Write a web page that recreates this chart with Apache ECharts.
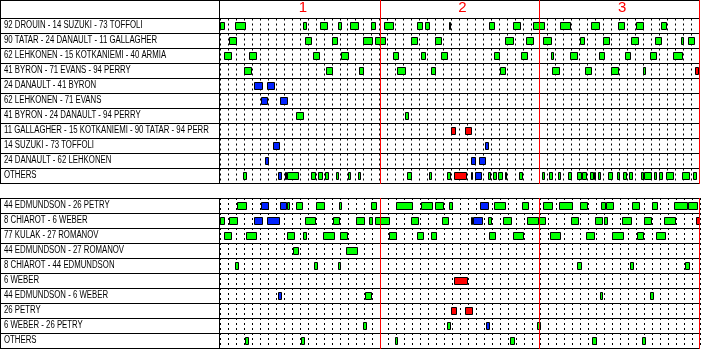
<!DOCTYPE html>
<html><head><meta charset="utf-8">
<script src="https://cdn.jsdelivr.net/npm/echarts@6/dist/echarts.min.js"></script>
<style>html,body{margin:0;padding:0;background:#fff}#c{width:702px;height:349px}</style>
</head><body><div id="c"></div>
<script>
// ---- data (game seconds) ----
const periodLabels = ['1', '2', '3'];
const periodEnds = [1200, 2400, 3600];
const gameLength = 3600;
const tickStep = 60;

const topRows = [
  '92 DROUIN - 14 SUZUKI - 73 TOFFOLI',
  '90 TATAR - 24 DANAULT - 11 GALLAGHER',
  '62 LEHKONEN - 15 KOTKANIEMI - 40 ARMIA',
  '41 BYRON - 71 EVANS - 94 PERRY',
  '24 DANAULT - 41 BYRON',
  '62 LEHKONEN - 71 EVANS',
  '41 BYRON - 24 DANAULT - 94 PERRY',
  '11 GALLAGHER - 15 KOTKANIEMI - 90 TATAR - 94 PERRY',
  '14 SUZUKI - 73 TOFFOLI',
  '24 DANAULT - 62 LEHKONEN',
  'OTHERS'
];
const bottomRows = [
  '44 EDMUNDSON - 26 PETRY',
  '8 CHIAROT - 6 WEBER',
  '77 KULAK - 27 ROMANOV',
  '44 EDMUNDSON - 27 ROMANOV',
  '8 CHIAROT - 44 EDMUNDSON',
  '6 WEBER',
  '44 EDMUNDSON - 6 WEBER',
  '26 PETRY',
  '6 WEBER - 26 PETRY',
  'OTHERS'
];

// [row, start, end, kind]  kind: G = even strength, B = power play, R = short handed
const topShifts = [
  [0,0,40,'G'],[0,115,193,'G'],[0,623,653,'G'],[0,752,808,'G'],[0,887,920,'G'],[0,975,1048,'G'],[0,1133,1175,'G'],[0,1230,1310,'G'],[0,1478,1528,'G'],[0,1538,1580,'G'],[0,1718,1738,'G'],[0,2020,2068,'G'],[0,2200,2263,'G'],[0,2350,2443,'G'],[0,2552,2638,'G'],[0,2790,2855,'G'],[0,2993,3043,'G'],[0,3128,3185,'G'],[0,3315,3360,'G'],
  [1,68,125,'G'],[1,638,695,'G'],[1,840,890,'G'],[1,1073,1148,'G'],[1,1163,1250,'G'],[1,1433,1490,'G'],[1,1613,1670,'G'],[1,2145,2210,'G'],[1,2303,2360,'G'],[1,2430,2495,'G'],[1,2702,2743,'G'],[1,2880,2930,'G'],[1,3090,3148,'G'],[1,3270,3320,'G'],[1,3465,3485,'G'],[1,3518,3570,'G'],
  [2,30,88,'G'],[2,218,275,'G'],[2,698,748,'G'],[2,908,973,'G'],[2,1298,1348,'G'],[2,1508,1550,'G'],[2,1658,1715,'G'],[2,2063,2105,'G'],[2,2265,2315,'G'],[2,2490,2513,'G'],[2,2633,2693,'G'],[2,2850,2893,'G'],[2,3045,3088,'G'],[2,3233,3283,'G'],[2,3405,3478,'G'],
  [3,180,238,'G'],[3,795,853,'G'],[3,1043,1085,'G'],[3,1328,1400,'G'],[3,1583,1625,'G'],[3,2108,2150,'G'],[3,2498,2555,'G'],[3,2745,2795,'G'],[3,2940,3000,'G'],[3,3180,3200,'G'],[3,3570,3600,'R'],
  [4,255,320,'B'],[4,353,410,'B'],
  [5,308,360,'B'],[5,450,510,'B'],
  [6,572,635,'G'],[6,1388,1423,'G'],
  [7,1733,1775,'R'],[7,1838,1895,'R'],
  [8,398,448,'B'],[8,1988,2023,'B'],
  [9,338,365,'B'],[9,1890,1925,'B'],[9,1950,2000,'B'],
  [10,173,200,'G'],[10,435,465,'B'],[10,488,503,'B'],[10,503,590,'G'],[10,683,723,'G'],[10,733,773,'G'],[10,788,818,'G'],[10,870,898,'G'],[10,960,988,'G'],[10,1035,1058,'G'],[10,1403,1445,'G'],[10,1568,1595,'G'],[10,1703,1733,'G'],[10,1757,1855,'R'],[10,1883,1905,'G'],[10,1913,1970,'B'],[10,2013,2040,'G'],[10,2055,2085,'G'],[10,2093,2130,'G'],[10,2140,2158,'G'],[10,2250,2278,'G'],[10,2423,2443,'G'],[10,2475,2505,'G'],[10,2543,2563,'G'],[10,2618,2643,'G'],[10,2680,2720,'G'],[10,2720,2758,'G'],[10,2783,2810,'G'],[10,2810,2825,'G'],[10,2843,2865,'G'],[10,2918,2953,'G'],[10,2985,3005,'G'],[10,3030,3060,'G'],[10,3075,3103,'G'],[10,3165,3190,'G'],[10,3190,3245,'G'],[10,3263,3285,'G'],[10,3300,3328,'G'],[10,3350,3415,'G'],[10,3473,3530,'G'],[10,3555,3583,'G']
];

const bottomShifts = [
  [0,128,200,'G'],[0,308,365,'B'],[0,450,505,'B'],[0,505,525,'G'],[0,572,620,'G'],[0,722,785,'G'],[0,893,913,'G'],[0,1135,1178,'G'],[0,1322,1445,'G'],[0,1510,1595,'G'],[0,1613,1678,'G'],[0,1718,1745,'G'],[0,1952,2015,'B'],[0,2057,2143,'G'],[0,2267,2315,'G'],[0,2423,2495,'G'],[0,2543,2645,'G'],[0,2702,2758,'G'],[0,2860,2893,'G'],[0,2893,2953,'G'],[0,3090,3148,'G'],[0,3242,3283,'G'],[0,3405,3510,'G'],[0,3510,3583,'G'],
  [1,0,40,'G'],[1,70,133,'G'],[1,255,320,'B'],[1,353,448,'B'],[1,640,718,'G'],[1,850,898,'G'],[1,1022,1085,'G'],[1,1118,1145,'G'],[1,1163,1277,'G'],[1,1433,1490,'G'],[1,1665,1715,'G'],[1,1883,1895,'G'],[1,1895,1970,'B'],[1,2010,2038,'G'],[1,2123,2188,'G'],[1,2303,2393,'G'],[1,2393,2443,'G'],[1,2633,2690,'G'],[1,2813,2870,'G'],[1,2880,2908,'G'],[1,3015,3088,'G'],[1,3180,3238,'G'],[1,3330,3418,'G'],[1,3570,3600,'R'],
  [2,30,88,'G'],[2,195,275,'G'],[2,503,560,'G'],[2,623,650,'G'],[2,775,860,'G'],[2,900,958,'G'],[2,1268,1325,'G'],[2,1478,1528,'G'],[2,1583,1625,'G'],[2,2018,2068,'G'],[2,2198,2278,'G'],[2,2475,2555,'G'],[2,2745,2810,'G'],[2,2940,3028,'G'],[2,3128,3178,'G'],[2,3270,3343,'G'],
  [3,548,590,'G'],[3,945,1033,'G'],
  [4,113,140,'G'],[4,705,733,'G'],[4,885,905,'G'],[4,2678,2713,'G'],[4,3075,3103,'G'],[4,3488,3523,'G'],
  [5,1757,1858,'R'],
  [6,435,465,'B'],[6,1088,1140,'G'],[6,2850,2873,'G'],[6,3225,3255,'G'],
  [7,1733,1775,'R'],[7,1838,1895,'R'],
  [8,1073,1103,'G'],[8,1703,1733,'G'],[8,1995,2023,'B'],[8,2378,2405,'G'],
  [9,188,218,'G'],[9,608,638,'G'],[9,1313,1333,'G'],[9,2175,2210,'G'],[9,2790,2825,'G'],[9,3165,3195,'G']
];

const kindColors = { G: '#00ff00', B: '#0022ff', R: '#ff0000' };

// ---- layout ----
const L = 220, W = 480, ROW = 15, TOP1 = 18, TOP2 = 198;

const chart = echarts.init(document.getElementById('c'), null, { renderer: 'canvas' });

function renderShift(params, api) {
  const row = api.value(0), s = api.value(1), e = api.value(2);
  const p1 = api.coord([s, row]), p2 = api.coord([e, row]);
  const x1 = Math.round(p1[0]), x2 = Math.round(p2[0]);
  const y = Math.floor(p1[1] - 3) + 0.5;
  return {
    type: 'rect',
    shape: { x: x1 + 0.5, y: y, width: Math.max(x2 - x1 - 1, 1), height: 7 },
    style: { fill: api.visual('color'), stroke: '#000', lineWidth: 1 }
  };
}

function xAxisFor(i) {
  return {
    gridIndex: i, type: 'value', min: 0, max: gameLength, interval: tickStep,
    position: 'top',
    axisLine: { show: false }, axisTick: { show: false },
    splitLine: { show: true, lineStyle: { color: '#000', width: 1, type: [2, 3] } },
    axisLabel: i === 0 ? {
      show: true, color: '#ff0000', fontSize: 15, fontFamily: 'Liberation Sans',
      margin: 11, verticalAlign: 'middle', padding: [0, 0, 0, 6],
      formatter: function (v) {
        return (v % 1200 === 600) ? periodLabels[Math.floor(v / 1200)] : '';
      }
    } : { show: false }
  };
}
function yAxisFor(i, rows) {
  return {
    gridIndex: i, type: 'category', data: rows, inverse: true,
    axisLine: { show: false }, axisTick: { show: false },
    axisLabel: { show: false }, splitLine: { show: false }
  };
}

chart.setOption({
  animation: false,
  backgroundColor: '#fff',
  grid: [
    { left: L, top: TOP1, width: W, height: topRows.length * ROW },
    { left: L, top: TOP2, width: W, height: bottomRows.length * ROW }
  ],
  xAxis: [xAxisFor(0), xAxisFor(1)],
  yAxis: [yAxisFor(0, topRows), yAxisFor(1, bottomRows)],
  series: [
    {
      type: 'custom', xAxisIndex: 0, yAxisIndex: 0, renderItem: renderShift,
      encode: { x: [1, 2], y: 0 },
      data: topShifts.map(d => ({ value: [d[0], d[1], d[2]], itemStyle: { color: kindColors[d[3]] } }))
    },
    {
      type: 'custom', xAxisIndex: 1, yAxisIndex: 1, renderItem: renderShift,
      encode: { x: [1, 2], y: 0 },
      data: bottomShifts.map(d => ({ value: [d[0], d[1], d[2]], itemStyle: { color: kindColors[d[3]] } }))
    }
  ]
});

// ---- frame, labels and period lines ----
const g = [];
const xEnd = chart.convertToPixel({ xAxisIndex: 0 }, gameLength);
function hline(y, x0, x1, color) {
  g.push({ type: 'line', z: 10, shape: { x1: x0, y1: y + 0.5, x2: x1, y2: y + 0.5 }, style: { stroke: color || '#000', lineWidth: 1 } });
}
function vline(x, y0, y1, color) {
  g.push({ type: 'line', z: 11, shape: { x1: x + 0.5, y1: y0, x2: x + 0.5, y2: y1 }, style: { stroke: color || '#000', lineWidth: 1 } });
}
function panel(top, rows, headerTop) {
  const bottom = top + rows.length * ROW;
  if (headerTop !== null) hline(headerTop, 0, xEnd + 1);
  for (let k = 0; k <= rows.length; k++) hline(top + k * ROW, 0, xEnd + 1);
  const y0 = headerTop !== null ? headerTop : top;
  vline(0, y0, bottom + 1);
  vline(L - 1, y0, bottom + 1);
  rows.forEach((name, k) => {
    g.push({
      type: 'text', z: 12, x: 4, y: top + k * ROW + 7.5, scaleX: 0.78,
      style: {
        text: name, fill: '#000', fontSize: 10, fontFamily: 'Liberation Sans',
        verticalAlign: 'middle', align: 'left', width: 268, overflow: 'truncate', ellipsis: ''
      }
    });
  });
  periodEnds.forEach(v => {
    const x = Math.round(chart.convertToPixel({ xAxisIndex: 0 }, v));
    vline(x, y0, bottom + 1, '#ff0000');
  });
}
panel(TOP1, topRows, 0);
panel(TOP2, bottomRows, null);
chart.setOption({ graphic: { elements: g } });
</script>
</body></html>
